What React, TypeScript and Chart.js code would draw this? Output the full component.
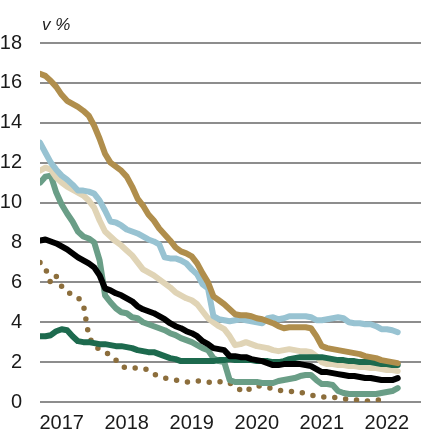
import React, { useEffect, useRef } from "react";
import { Chart, registerables } from "chart.js";

Chart.register(...registerables);

// month index 0 = Mar 2017 ... 66 = Sep 2022
const yearTickPositions = [4, 16, 28, 40, 52, 64];
const yearTickLabels = ["2017", "2018", "2019", "2020", "2021", "2022"];
const yTicks = [0, 2, 4, 6, 8, 10, 12, 14, 16, 18];
const unitLabel = "v %";

const goldSeries = [
  16.45, 16.35, 16.1, 15.8, 15.4, 15.1, 14.95, 14.8, 14.6, 14.35, 13.85, 13.2,
  12.45, 12.0, 11.8, 11.6, 11.3, 10.8, 10.2, 9.85, 9.4, 9.1, 8.7, 8.4,
  8.1, 7.75, 7.55, 7.45, 7.3, 6.95, 6.45, 6.0, 5.3, 5.1, 4.9, 4.65,
  4.4, 4.35, 4.35, 4.3, 4.2, 4.15, 4.05, 3.95, 3.8, 3.7, 3.75, 3.75,
  3.75, 3.75, 3.7, 3.3, 2.8, 2.7, 2.65, 2.6, 2.55, 2.5, 2.45, 2.4,
  2.3, 2.25, 2.2, 2.1, 2.05, 2.0, 1.95,
];

const blueSeries = [
  13.0, 12.5, 12.0, 11.65, 11.35, 11.15, 10.9, 10.6, 10.6, 10.55, 10.45, 10.1,
  9.6, 9.05, 9.0, 8.85, 8.65, 8.55, 8.45, 8.3, 8.15, 8.05, 7.9, 7.25,
  7.2, 7.2, 7.1, 6.95, 6.65, 6.4, 5.9, 5.7, 4.3, 4.15, 4.1, 4.05,
  4.1, 4.15, 4.1, 4.05, 4.0, 3.95, 4.2, 4.25, 4.15, 4.2, 4.3, 4.3,
  4.3, 4.3, 4.25, 4.1, 4.1, 4.15, 4.2, 4.25, 4.2, 4.0, 3.95, 3.95,
  3.9, 3.9, 3.8, 3.65, 3.65, 3.6, 3.5,
];

const beigeSeries = [
  11.6, 11.75, 11.65, 11.25, 11.0, 10.8, 10.65, 10.5, 10.35, 10.1, 9.75, 9.1,
  8.55, 8.3, 8.05, 7.85, 7.6, 7.35, 7.0, 6.65, 6.5, 6.35, 6.15, 5.95,
  5.75, 5.5, 5.35, 5.2, 5.1, 4.9, 4.55, 4.2, 4.0, 3.8, 3.65, 3.3,
  2.85, 2.9, 3.0, 2.9, 2.8, 2.75, 2.7, 2.6, 2.55, 2.6, 2.65, 2.6,
  2.55, 2.55, 2.5, 2.3, 2.0, 1.9, 1.9, 1.85, 1.85, 1.8, 1.8, 1.75,
  1.75, 1.7, 1.7, 1.65, 1.6, 1.6, 1.55,
];

const tealSeries = [
  11.0, 11.3, 11.35, 10.5, 9.9, 9.45, 9.05, 8.55, 8.3, 8.2, 8.0, 7.1,
  5.35, 5.0, 4.7, 4.5, 4.45, 4.25, 4.2, 4.0, 3.9, 3.8, 3.7, 3.6,
  3.45, 3.35, 3.2, 3.1, 3.0, 2.85, 2.7, 2.6, 2.2, 2.05, 2.0, 1.1,
  1.0, 1.0, 1.0, 1.0, 1.0, 0.95, 0.95, 0.95, 1.05, 1.1, 1.15, 1.2,
  1.3, 1.35, 1.35, 1.1, 0.9, 0.9, 0.85, 0.55, 0.45, 0.4, 0.4, 0.4,
  0.4, 0.4, 0.4, 0.45, 0.5, 0.55, 0.7,
];

const blackSeries = [
  8.1, 8.15, 8.05, 7.95, 7.8, 7.65, 7.45, 7.25, 7.1, 6.95, 6.75, 6.35,
  5.7, 5.6, 5.45, 5.35, 5.2, 5.05, 4.8, 4.65, 4.55, 4.45, 4.3, 4.15,
  3.95, 3.8, 3.7, 3.55, 3.45, 3.3, 3.05, 2.9, 2.7, 2.65, 2.6, 2.3,
  2.3, 2.25, 2.25, 2.15, 2.1, 2.05, 1.95, 1.85, 1.85, 1.9, 1.9, 1.9,
  1.9, 1.85, 1.8, 1.65, 1.5, 1.5, 1.45, 1.4, 1.35, 1.3, 1.3, 1.25,
  1.2, 1.2, 1.15, 1.1, 1.1, 1.1, 1.2,
];

const darkGreenSeries = [
  3.3, 3.3, 3.35, 3.55, 3.65, 3.6, 3.3, 3.05, 3.0, 3.0, 2.95, 2.9,
  2.9, 2.85, 2.8, 2.8, 2.75, 2.7, 2.6, 2.55, 2.5, 2.5, 2.4, 2.3,
  2.2, 2.15, 2.05, 2.05, 2.05, 2.05, 2.05, 2.05, 2.05, 2.1, 2.1, 2.15,
  2.1, 2.1, 2.1, 2.1, 2.05, 2.05, 2.05, 2.0, 2.0, 2.05, 2.15, 2.2,
  2.25, 2.25, 2.25, 2.25, 2.25, 2.2, 2.15, 2.1, 2.1, 2.05, 2.05, 2.0,
  2.0, 2.0, 1.95, 1.9, 1.9, 1.85, 1.85,
];

const dottedSeries = [
  7.0, 6.7, 5.95, 6.3, 5.8, 5.5, 5.4, 5.25, 4.9, 3.3, 2.8, 2.65,
  2.5, 2.35, 2.1, 1.8, 1.7, 1.7, 1.7, 1.7, 1.6, 1.4, 1.3, 1.2,
  1.15, 1.1, 1.05, 1.0, 1.0, 1.05, 1.05, 1.0, 0.95, 1.0, 1.05, 0.95,
  0.75, 0.6, 0.5, 0.75, 0.8, 0.8, 0.75, 0.65, 0.6, 0.55, 0.55, 0.5,
  0.5, 0.4, 0.35, 0.3, 0.25, 0.25, 0.25, 0.2, 0.15, 0.15, 0.1, 0.1,
  0.05, 0.05, 0.1, 0.1, 0.1, null, null,
];

const FONT = '"Liberation Sans Narrow", "Arial Narrow", "Liberation Sans", Arial, sans-serif';

function toPoints(values: (number | null)[]) {
  return values.map((v, i) => ({ x: i, y: v }));
}

export default function App() {
  const ref = useRef<HTMLCanvasElement | null>(null);

  useEffect(() => {
    if (!ref.current) return;
    const unitPlugin = {
      id: "unitLabel",
      afterDraw(chart: any) {
        const ctx = chart.ctx;
        ctx.save();
        ctx.fillStyle = "#1a1a1a";
        ctx.font = "italic 17px " + FONT;
        ctx.textBaseline = "alphabetic";
        ctx.textAlign = "left";
        ctx.fillText(unitLabel, 42, 30);
        ctx.restore();
      },
    };
    const line = (data: (number | null)[], color: string, width: number, extra: any = {}) => ({
      data: toPoints(data),
      borderColor: color,
      backgroundColor: color,
      borderWidth: width,
      pointRadius: 0,
      tension: 0,
      borderJoinStyle: "round",
      borderCapStyle: "round",
      spanGaps: false,
      ...extra,
    });
    const chart = new Chart(ref.current, {
      type: "line",
      data: {
        datasets: [
          line(blackSeries, "#000000", 6),
          line(goldSeries, "#b08e4c", 6),
          line(darkGreenSeries, "#1d6a4e", 6),
          line(blueSeries, "#98c3d2", 6),
          line(beigeSeries, "#e0d4b6", 6),
          line(tealSeries, "#6a9e87", 6),
          line(dottedSeries, "#8c6e3c", 5.5, { borderDash: [0, 11] }),
        ] as any,
      },
      options: {
        responsive: false,
        animation: false,
        layout: { padding: { top: 43, left: 0, right: 0, bottom: 0 } },
        plugins: { legend: { display: false }, tooltip: { enabled: false } },
        scales: {
          x: {
            type: "linear",
            min: 0,
            max: 70.3,
            grid: { display: false, drawTicks: false },
            border: { display: false },
            afterBuildTicks: (axis: any) => {
              axis.ticks = yearTickPositions.map((v) => ({ value: v }));
            },
            afterFit: (scale: any) => {
              scale.height = 29;
            },
            ticks: {
              autoSkip: false,
              maxRotation: 0,
              padding: 9,
              color: "#1a1a1a",
              font: { family: FONT, size: 20 },
              callback: (v: any) => {
                const idx = yearTickPositions.indexOf(Number(v));
                return idx >= 0 ? yearTickLabels[idx] : "";
              },
            },
          },
          y: {
            min: 0,
            max: 18,
            afterBuildTicks: (axis: any) => {
              axis.ticks = yTicks.map((v) => ({ value: v }));
            },
            afterFit: (scale: any) => {
              scale.width = 40;
            },
            grid: { color: "#8d8d8d", lineWidth: 2, drawTicks: false },
            border: { display: false },
            ticks: {
              padding: 18,
              color: "#1a1a1a",
              font: { family: FONT, size: 20 },
            },
          },
        },
      },
      plugins: [unitPlugin],
    });
    return () => chart.destroy();
  }, []);

  return (
    <div style={{ position: "absolute", left: 0, top: 0, width: 421, height: 432, background: "#fff" }}>
      <canvas ref={ref} width={421} height={432} style={{ display: "block" }} />
    </div>
  );
}
